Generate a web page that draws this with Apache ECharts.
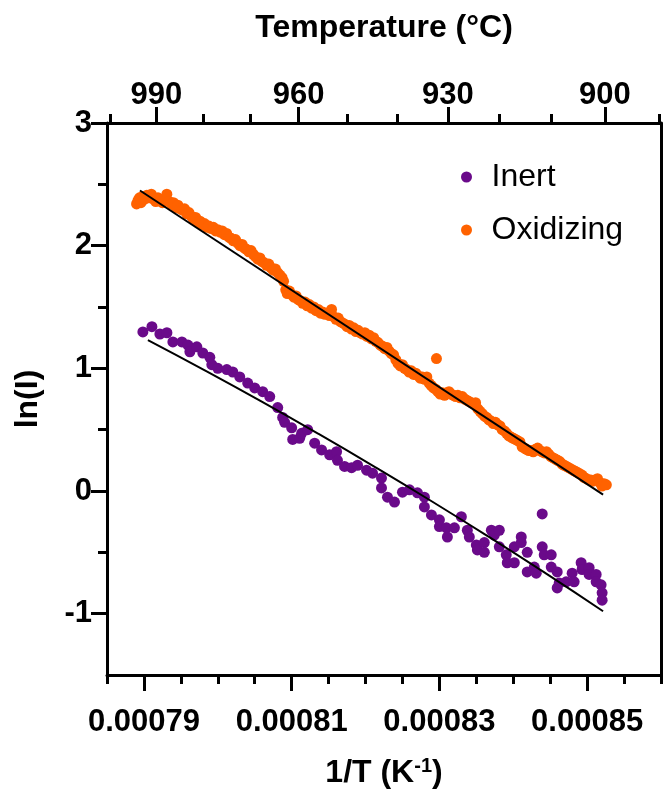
<!DOCTYPE html>
<html>
<head>
<meta charset="utf-8">
<script src="https://cdn.jsdelivr.net/npm/echarts@6/dist/echarts.min.js"></script>
<style>
html,body{margin:0;padding:0;background:#fff;}
#chart{width:663px;height:792px;}
</style>
</head>
<body>
<div id="chart"></div>
<script>
// x values in units of 1e-6 K^-1 (1/T), y = ln(I)
const xMajorTicks = [790, 810, 830, 850];
const xMinorTicks = [785, 795, 800, 805, 815, 820, 825, 835, 840, 845, 855, 860];
const yMajorTicks = [-1, 0, 1, 2, 3];
const yMinorTicks = [2.5, 1.5, 0.5, -0.5];
const tempMajorTicks = [990, 960, 930, 900];
const tempMinorTicks = [1000, 980, 970, 950, 940, 920, 910, 890];

const inertPoints = [
[789.86,1.297],[791.08,1.34],[792.16,1.28],[793.11,1.29],[793.92,1.215],[795.14,1.215],
[795.95,1.19],[796.22,1.135],[797.16,1.175],[797.97,1.125],[798.92,1.09],[799.19,1.03],
[800.0,1.0],[801.22,0.99],[802.03,0.97],[802.97,0.93],[804.05,0.88],[805.0,0.84],
[806.08,0.81],[807.03,0.77],[808.11,0.68],[808.78,0.60],[809.05,0.56],[810.0,0.515],
[810.14,0.42],[811.08,0.43],[811.35,0.47],[812.16,0.50],[813.11,0.39],[814.05,0.335],
[815.14,0.295],[816.08,0.32],[816.2,0.25],[817.16,0.20],[818.11,0.19],[818.92,0.21],
[820.14,0.17],[820.95,0.145],[822.16,0.105],[822.16,0.025],[822.97,-0.05],[823.92,-0.09],
[825.0,-0.01],[825.95,0.01],[827.03,-0.015],[827.97,-0.05],[827.97,-0.13],[828.92,-0.195],
[830.0,-0.235],[830.0,-0.29],[830.95,-0.30],[831.08,-0.375],[832.03,-0.30],[832.97,-0.21],
[833.78,-0.32],[834.05,-0.375],[835.0,-0.44],[835.14,-0.48],[836.08,-0.42],[836.08,-0.50],
[837.03,-0.32],[837.43,-0.36],[838.11,-0.32],[838.11,-0.455],[839.05,-0.52],[839.19,-0.585],
[840.14,-0.585],[840.14,-0.455],[841.08,-0.375],[841.08,-0.42],[841.89,-0.50],[841.89,-0.66],
[842.84,-0.62],[843.11,-0.67],[843.92,-0.455],[843.92,-0.187],[844.19,-0.52],[845.14,-0.52],
[845.14,-0.62],[845.95,-0.66],[845.95,-0.79],[846.22,-0.75],[847.16,-0.74],[847.97,-0.67],
[848.24,-0.74],[849.19,-0.585],[849.32,-0.64],[850.27,-0.625],[850.27,-0.68],[851.22,-0.68],
[851.22,-0.74],[851.89,-0.765],[852.03,-0.83],[852.03,-0.89]
];

const oxidizingPoints = [
[789.0,2.34],[789.2,2.37],[789.4,2.39],[789.6,2.35],[789.8,2.40],[790.1,2.38],[790.4,2.41],
[790.7,2.39],[791.0,2.42],[791.3,2.38],[791.6,2.36],[791.9,2.39],[792.2,2.37],[792.5,2.35],
[792.8,2.38],[793.1,2.42],[793.4,2.36],[793.7,2.34],[794.0,2.35],[794.3,2.31],[794.6,2.33],
[794.9,2.30],[795.2,2.29],[795.5,2.30],[795.8,2.26],[796.1,2.27],[796.4,2.24],[796.7,2.22],
[797.0,2.23],[797.3,2.19],[797.6,2.20],[797.9,2.17],[798.2,2.18],[798.5,2.15],[798.8,2.16],
[799.1,2.14],[799.4,2.15],[799.7,2.12],[800.0,2.13],[800.3,2.11],[800.6,2.12],[800.9,2.09],
[801.2,2.10],[801.5,2.07],[801.8,2.06],[802.1,2.04],[802.4,2.05],[802.7,2.02],[803.0,2.00],
[803.3,2.01],[803.6,1.98],[803.9,1.97],[804.2,1.95],[804.5,1.96],[804.8,1.93],[805.1,1.91],
[805.4,1.89],[805.7,1.90],[806.0,1.87],[806.3,1.86],[806.6,1.84],[806.9,1.85],[807.2,1.82],
[807.5,1.80],[807.8,1.81],[808.1,1.78],[808.4,1.76],[808.7,1.74],[808.9,1.71],[809.2,1.64],
[809.4,1.61],[809.7,1.63],[810.0,1.60],[810.3,1.58],[810.6,1.59],[810.9,1.56],[811.2,1.55],
[811.5,1.53],[811.8,1.54],[812.1,1.51],[812.4,1.52],[812.7,1.49],[813.0,1.50],[813.3,1.47],
[813.6,1.48],[813.9,1.45],[814.2,1.46],[814.5,1.44],[814.8,1.45],[815.1,1.43],[815.4,1.48],
[815.7,1.42],[816.0,1.40],[816.3,1.41],[816.6,1.38],[816.9,1.37],[817.2,1.36],[817.5,1.34],
[817.8,1.35],[818.1,1.32],[818.4,1.33],[818.7,1.30],[819.0,1.31],[819.3,1.29],[819.6,1.28],
[819.9,1.29],[820.2,1.26],[820.5,1.27],[820.8,1.24],[821.1,1.25],[821.4,1.22],[821.7,1.21],
[822.0,1.19],[822.3,1.18],[822.6,1.16],[822.9,1.17],[823.2,1.14],[823.5,1.12],[823.8,1.11],
[824.1,1.07],[824.4,1.04],[824.7,1.02],[825.0,1.03],[825.3,1.00],[825.6,0.99],[825.9,0.97],
[826.2,0.98],[826.5,0.95],[826.8,0.96],[827.1,0.94],[827.4,0.92],[827.7,0.93],[828.0,0.91],
[828.3,0.93],[828.6,0.88],[828.9,0.86],[829.2,0.84],[829.6,1.08],[829.5,0.83],[829.8,0.81],
[830.1,0.79],[830.4,0.80],[830.7,0.78],[831.0,0.80],[831.3,0.81],[831.6,0.79],[831.9,0.78],
[832.2,0.77],[832.5,0.78],[832.8,0.76],[833.1,0.77],[833.4,0.75],[833.7,0.74],[834.0,0.73],
[834.3,0.72],[834.6,0.71],[834.9,0.72],[835.2,0.67],[835.5,0.65],[835.8,0.63],[836.1,0.61],
[836.4,0.60],[836.7,0.58],[837.0,0.57],[837.3,0.55],[837.6,0.56],[837.9,0.54],[838.2,0.53],
[838.5,0.50],[838.8,0.49],[839.1,0.47],[839.4,0.45],[839.7,0.44],[840.0,0.43],[840.3,0.42],
[840.6,0.41],[840.9,0.40],[841.2,0.36],[841.5,0.35],[841.8,0.34],[842.1,0.33],[842.4,0.33],
[842.7,0.32],[843.0,0.34],[843.3,0.35],[843.6,0.33],[843.9,0.32],[844.2,0.31],[844.5,0.32],
[844.8,0.30],[845.1,0.28],[845.4,0.27],[845.7,0.26],[846.0,0.25],[846.3,0.24],[846.6,0.22],
[846.9,0.21],[847.2,0.20],[847.5,0.19],[847.8,0.18],[848.1,0.17],[848.4,0.16],[848.7,0.15],
[849.0,0.14],[849.3,0.13],[849.6,0.11],[849.9,0.10],[850.2,0.09],[850.5,0.09],[850.8,0.08],
[851.1,0.09],[851.4,0.10],[851.7,0.07],[852.0,0.04],[852.3,0.06],[852.6,0.05]
];

const inertFit = [
[790.54,1.23],[798.24,0.9835],[805.95,0.7285],[813.65,0.465],[821.35,0.193],
[829.06,-0.0875],[836.76,-0.3765],[844.46,-0.674],[852.16,-0.98]
];
const oxidizingFit = [[789.46,2.45],[852.16,-0.03]];

const FONT = 'Liberation Sans, Arial, sans-serif';
const BLACK = '#000';
const PURPLE = '#6A0A8A';
const ORANGE = '#FF6200';
const X_MIN = 785, X_MAX = 860, Y_MIN = -1.5, Y_MAX = 3;

const lineStyle = {color: BLACK, width: 3};
const labelStyle = {color: BLACK, fontFamily: FONT, fontWeight: 'bold', fontSize: 31};
const nameStyle = {color: BLACK, fontFamily: FONT, fontWeight: 'bold', fontSize: 32};
const toT = v => 1e6 / (v + 273.15);

const chart = echarts.init(document.getElementById('chart'));
chart.setOption({
  animation: false,
  backgroundColor: '#fff',
  grid: {left: 107, right: 2, top: 123, bottom: 117, containLabel: false, outerBoundsMode: 'none'},
  legend: {
    data: ['Inert', 'Oxidizing'],
    orient: 'vertical',
    left: 456, top: 156,
    itemWidth: 24, itemHeight: 11, itemGap: 21,
    icon: 'circle',
    textStyle: {fontFamily: FONT, fontSize: 32, color: BLACK, padding: [0,0,0,8]}
  },
  xAxis: [
    {type: 'value', position: 'bottom', min: X_MIN, max: X_MAX,
     axisLine: {show: true, onZero: false, lineStyle}, splitLine: {show: false},
     axisTick: {show: true, customValues: xMajorTicks, length: 16, lineStyle},
     axisLabel: {customValues: xMajorTicks, margin: 32, ...labelStyle,
       formatter: v => (v / 1e6).toFixed(5)},
     name: '1/T (K{sup|-1})', nameLocation: 'middle', nameGap: 81,
     nameTextStyle: {...nameStyle, rich: {sup: {...nameStyle, fontSize: 20, verticalAlign: 'top', padding: [0,0,14,0]}}}},
    {type: 'value', position: 'bottom', min: X_MIN, max: X_MAX,
     axisLine: {show: false, onZero: false}, splitLine: {show: false},
     axisTick: {show: true, customValues: xMinorTicks, length: 9, lineStyle},
     axisLabel: {show: false}},
    {type: 'value', position: 'top', min: X_MIN, max: X_MAX,
     axisLine: {show: true, onZero: false, lineStyle}, splitLine: {show: false},
     axisTick: {show: true, customValues: tempMajorTicks.map(toT), length: 16, lineStyle},
     axisLabel: {customValues: tempMajorTicks.map(toT), margin: 12, ...labelStyle,
       formatter: v => String(Math.round(1e6 / v - 273.15))},
     name: 'Temperature (°C)', nameLocation: 'middle', nameGap: 79, nameTextStyle: nameStyle},
    {type: 'value', position: 'top', min: X_MIN, max: X_MAX,
     axisLine: {show: false, onZero: false}, splitLine: {show: false},
     axisTick: {show: true, customValues: tempMinorTicks.map(toT), length: 9, lineStyle},
     axisLabel: {show: false}}
  ],
  yAxis: [
    {type: 'value', position: 'left', min: Y_MIN, max: Y_MAX,
     axisLine: {show: true, onZero: false, lineStyle}, splitLine: {show: false},
     axisTick: {show: true, customValues: yMajorTicks, length: 16, lineStyle},
     axisLabel: {customValues: yMajorTicks, margin: 15, ...labelStyle},
     name: 'ln(I)', nameLocation: 'middle', nameGap: 63, nameTextStyle: nameStyle},
    {type: 'value', position: 'left', min: Y_MIN, max: Y_MAX,
     axisLine: {show: false, onZero: false}, splitLine: {show: false},
     axisTick: {show: true, customValues: yMinorTicks, length: 9, lineStyle},
     axisLabel: {show: false}},
    {type: 'value', position: 'right', min: Y_MIN, max: Y_MAX,
     axisLine: {show: true, onZero: false, lineStyle}, splitLine: {show: false},
     axisTick: {show: false}, axisLabel: {show: false}}
  ],
  series: [
    {name: 'Inert', type: 'scatter', xAxisIndex: 0, yAxisIndex: 0, data: inertPoints,
     symbol: 'circle', symbolSize: 11, itemStyle: {color: PURPLE, opacity: 1}, z: 2},
    {name: 'Oxidizing', type: 'scatter', xAxisIndex: 0, yAxisIndex: 0, data: oxidizingPoints,
     symbol: 'circle', symbolSize: 11, itemStyle: {color: ORANGE, opacity: 1}, z: 2},
    {name: 'Inert fit', type: 'line', xAxisIndex: 0, yAxisIndex: 0, data: inertFit, smooth: true,
     showSymbol: false, lineStyle: {color: BLACK, width: 2}, z: 5},
    {name: 'Oxidizing fit', type: 'line', xAxisIndex: 0, yAxisIndex: 0, data: oxidizingFit,
     showSymbol: false, lineStyle: {color: BLACK, width: 2}, z: 5}
  ]
});
</script>
</body>
</html>
